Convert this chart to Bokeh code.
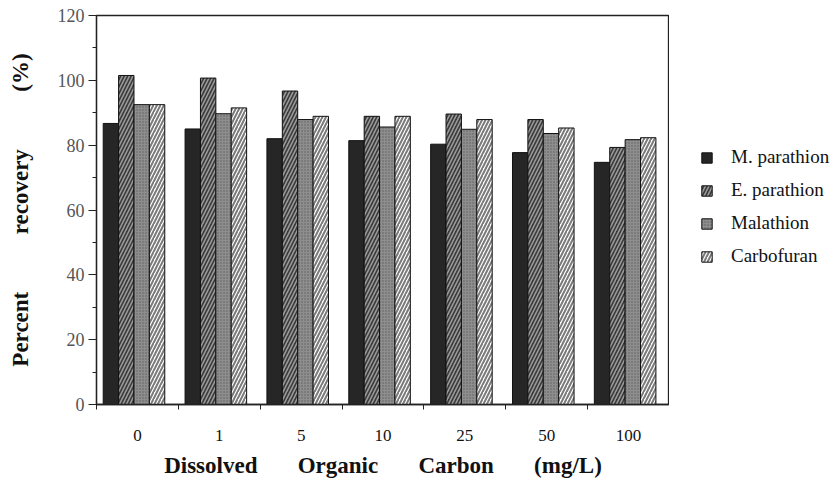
from bokeh.plotting import figure
from bokeh.layouts import row
from bokeh.models import (Range1d, FixedTicker, LinearAxis, Legend, LegendItem,
                          ColumnDataSource)
from bokeh.embed import file_html
from bokeh.resources import INLINE

# ---- data ----
categories = ["0", "1", "5", "10", "25", "50", "100"]
series_names = ["M. parathion", "E. parathion", "Malathion", "Carbofuran"]
m_parathion = [86.7, 85.0, 82.0, 81.4, 80.3, 77.7, 74.7]
e_parathion = [101.5, 100.7, 96.7, 88.9, 89.6, 87.9, 79.3]
malathion = [92.5, 89.7, 87.9, 85.6, 84.9, 83.6, 81.7]
carbofuran = [92.5, 91.5, 88.9, 88.9, 87.9, 85.3, 82.3]
y_ticks = [0, 20, 40, 60, 80, 100, 120]

SERIF = "Liberation Serif"
NB = "\u00a0"

p = figure(width=669, height=485, output_backend="svg", toolbar_location=None,
           x_range=Range1d(0, len(categories)), y_range=Range1d(0, 120),
           min_border_left=96, min_border_right=0, min_border_top=15,
           min_border_bottom=81, x_axis_location=None, y_axis_location=None)
p.grid.visible = False
p.outline_line_color = "#222222"
p.outline_line_width = 1.3
p.background_fill_color = "white"
p.border_fill_color = "white"

# bars
bar_w = 0.188
offsets = [0.176, 0.364, 0.552, 0.740]
values = [m_parathion, e_parathion, malathion, carbofuran]
styles = [
    dict(fill_color="#262626"),
    dict(fill_color="#3a3a3a", hatch_pattern="/", hatch_color="#9a9a9a",
         hatch_scale=7, hatch_weight=1.6),
    dict(fill_color="#8e8e8e", hatch_pattern=".", hatch_color="#5e5e5e",
         hatch_scale=3, hatch_weight=1),
    dict(fill_color="white", hatch_pattern="/", hatch_color="#7a7a7a",
         hatch_scale=7, hatch_weight=2),
]
for vals, off, st in zip(values, offsets, styles):
    src = ColumnDataSource(dict(x=[i + off for i in range(len(categories))], top=vals))
    p.vbar(x="x", top="top", bottom=0, width=bar_w, source=src,
           line_color="#111111", line_width=1, **st)

# y axis
yax = LinearAxis(ticker=FixedTicker(ticks=y_ticks, minor_ticks=[10, 30, 50, 70, 90, 110]))
yax.axis_line_color = "#222222"
yax.axis_line_width = 1.3
yax.major_tick_out = 8
yax.major_tick_in = 0
yax.minor_tick_out = 4
yax.minor_tick_in = 0
yax.major_tick_line_color = "#222222"
yax.minor_tick_line_color = "#222222"
yax.major_label_text_font = SERIF
yax.major_label_text_font_size = "18px"
yax.major_label_text_color = "#555555"
yax.major_label_standoff = 4
yax.axis_label = ("Percent" + NB * 10 + "recovery" + NB * 10 + "(%)")
yax.axis_label_text_font = SERIF
yax.axis_label_text_font_style = "bold"
yax.axis_label_text_font_size = "23px"
yax.axis_label_text_color = "#111111"
yax.axis_label_standoff = 22
p.add_layout(yax, "left")

# x axis with ticks at category boundaries
xax1 = LinearAxis(ticker=FixedTicker(ticks=list(range(len(categories) + 1)), minor_ticks=[]))
xax1.axis_line_color = "#222222"
xax1.axis_line_width = 1.3
xax1.major_tick_out = 5
xax1.major_tick_in = 0
xax1.major_tick_line_color = "#222222"
xax1.major_label_text_font_size = "0px"
xax1.major_label_standoff = 0
xax1.major_label_overrides = {i: "" for i in range(len(categories) + 1)}
p.add_layout(xax1, "below")

# x axis with category labels at centres
centres = [i + 0.5 for i in range(len(categories))]
xax2 = LinearAxis(ticker=FixedTicker(ticks=centres, minor_ticks=[]))
xax2.axis_line_color = None
xax2.major_tick_line_color = None
xax2.major_tick_out = 0
xax2.major_tick_in = 0
xax2.major_label_overrides = {c: lab for c, lab in zip(centres, categories)}
xax2.major_label_text_font = SERIF
xax2.major_label_text_font_size = "17px"
xax2.major_label_text_color = "#111111"
xax2.major_label_standoff = 20
xax2.axis_label = ("Dissolved" + NB * 7 + "Organic" + NB * 7 + "Carbon" + NB * 7 + "(mg/L)")
xax2.axis_label_text_font = SERIF
xax2.axis_label_text_font_style = "bold"
xax2.axis_label_text_font_size = "23px"
xax2.axis_label_text_color = "#111111"
xax2.axis_label_standoff = 9
p.add_layout(xax2, "below")

# legend panel as a separate borderless figure
lg = figure(width=168, height=485, output_backend="svg", toolbar_location=None,
            x_range=Range1d(0, 1), y_range=Range1d(0, 1), min_border=0,
            x_axis_location=None, y_axis_location=None)
lg.grid.visible = False
lg.outline_line_color = None
lg.background_fill_color = "white"
lg.border_fill_color = "white"
items = []
for name, st in zip(series_names, styles):
    # placeholder bar outside the visible range; only its legend swatch shows
    r = lg.vbar(x=[10], top=[0.5], bottom=0, width=0.1,
                line_color="#111111", line_width=1, **st)
    items.append(LegendItem(label=name, renderers=[r]))

legend = Legend(items=items, location=(31, 137))
legend.border_line_color = None
legend.background_fill_alpha = 0
legend.margin = 0
legend.padding = 0
legend.glyph_width = 13
legend.glyph_height = 13
legend.label_height = 20
legend.spacing = 11
legend.label_standoff = 18
legend.label_text_font = SERIF
legend.label_text_font_size = "19px"
legend.label_text_color = "#111111"
lg.add_layout(legend)

layout = row(p, lg, spacing=0)
open("out.html", "w").write(file_html(layout, INLINE))
